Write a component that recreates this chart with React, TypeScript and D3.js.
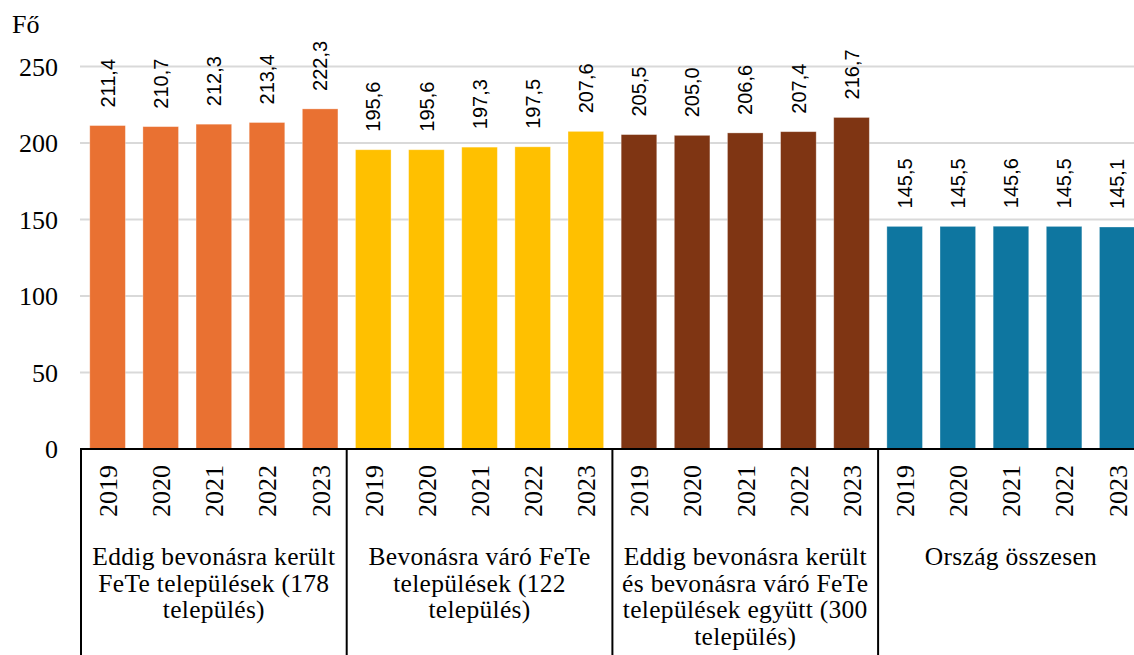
import React from "react";
import * as d3 from "d3";

const categories = ["g1", "g2", "g3", "g4"];
const categoryLines = [
  ["Eddig bevonásra került", "FeTe települések (178", "település)"],
  ["Bevonásra váró FeTe", "települések (122", "település)"],
  ["Eddig bevonásra került", "és bevonásra váró FeTe", "települések együtt (300", "település)"],
  ["Ország összesen"],
];
const years = ["2019", "2020", "2021", "2022", "2023"];
const seriesValues = [
  [211.4, 210.7, 212.3, 213.4, 222.3],
  [195.6, 195.6, 197.3, 197.5, 207.6],
  [205.5, 205.0, 206.6, 207.4, 216.7],
  [145.5, 145.5, 145.6, 145.5, 145.1],
];
const colors = ["#E97132", "#FFC000", "#7F3513", "#0E76A0"];
const yTicks = [0, 50, 100, 150, 200, 250];
const unitLabel = "Fő";

const W = 1134;
const H = 655;
const serif = "'Liberation Serif', 'Times New Roman', serif";
const sans = "'Liberation Sans', Arial, sans-serif";

export default function App() {
  const x0 = 81;
  const gw = 265.7;
  const outer = d3.scaleBand<string>().domain(categories).range([x0, x0 + gw * categories.length]).padding(0);
  const inner = d3.scaleBand<string>().domain(years).range([0, gw]).paddingInner(0.33).paddingOuter(0.165);
  const y = d3.scaleLinear().domain([0, 250]).range([449, 66.5]);
  const fmt = (v: number) => v.toFixed(1).replace(".", ",");

  return (
    <svg width={W} height={H} style={{ position: "absolute", left: 0, top: 0, background: "#fff" }}>
      <rect x={0} y={0} width={W} height={H} fill="#fff" />
      {yTicks.filter((t) => t > 0).map((t) => (
        <line key={t} x1={80} x2={W} y1={y(t)} y2={y(t)} stroke="#d9d9d9" strokeWidth={2} />
      ))}
      {yTicks.map((t) => (
        <text key={"t" + t} x={58} y={y(t)} dy="0.35em" textAnchor="end" fontFamily={serif} fontSize={26} fill="#000">
          {t}
        </text>
      ))}
      <text x={12} y={33} fontFamily={serif} fontSize={26} fill="#000">{unitLabel}</text>
      {categories.map((c, gi) => {
        const gx = outer(c)!;
        return (
          <g key={c}>
            {years.map((yr, i) => {
              const bx = gx + inner(yr)!;
              const bw = inner.bandwidth();
              const v = seriesValues[gi][i];
              const cx = bx + bw / 2;
              return (
                <g key={yr}>
                  <rect x={bx} y={y(v)} width={bw} height={y(0) - y(v)} fill={colors[gi]} stroke="#ffffff" strokeOpacity={0.4} strokeWidth={0.8} />
                  <text transform={`translate(${cx},${y(v) - 18}) rotate(-90)`} dy="0.36em" fontFamily={sans} fontSize={20} fill="#000">
                    {fmt(v)}
                  </text>
                  <text transform={`translate(${cx},${y(0) + 16}) rotate(-90)`} dy="0.36em" textAnchor="end" fontFamily={serif} fontSize={26} fill="#000">
                    {yr}
                  </text>
                </g>
              );
            })}
            <text textAnchor="middle" fontFamily={serif} fontSize={25.5} letterSpacing={0.3} fill="#000">
              {categoryLines[gi].map((ln, li) => (
                <tspan key={li} x={gx + gw / 2} y={565 + li * 26.7}>{ln}</tspan>
              ))}
            </text>
            <line x1={gx} x2={gx} y1={y(0)} y2={H} stroke="#000" strokeWidth={2} />
          </g>
        );
      })}
      <line x1={x0 - 1} x2={W} y1={y(0)} y2={y(0)} stroke="#000" strokeWidth={2} />
    </svg>
  );
}
